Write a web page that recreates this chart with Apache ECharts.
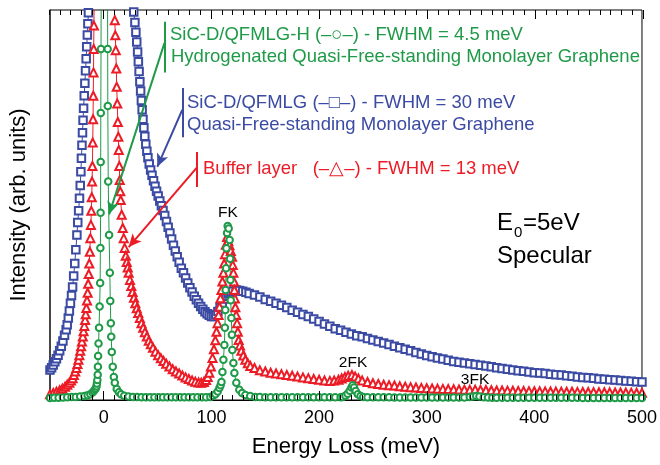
<!DOCTYPE html>
<html>
<head>
<meta charset="utf-8">
<script src="https://cdn.jsdelivr.net/npm/echarts@6/dist/echarts.min.js"></script>
<style>html,body{margin:0;padding:0;background:#fff}#c{width:660px;height:465px}</style>
</head>
<body>
<div id="c"></div>
<script>
// ---- data: [energy loss (meV), intensity (arb. units, 0-100 = plot height)] ----
const xTickValues = [0, 100, 200, 300, 400, 500];

const blueQFMLG = [
[-50,7.7],[-48.5,8.3],[-47,9.0],[-45.5,9.8],[-44,10.6],[-42.5,11.5],[-41,12.6],[-39.5,13.8],[-38,15.1],[-36.5,16.6],
[-35,18.0],[-34,19.3],[-33,21.0],[-32,22.8],[-31,24.8],[-30,26.8],[-29,29.0],[-28,31.8],[-27,35.0],[-26,38.5],
[-25,42.3],[-24.2,45.5],[-23.4,48.5],[-22.6,51.7],[-21.9,55.0],[-21.3,58.5],[-20.8,62],[-20.3,65.3],[-19.8,68.5],[-19.3,71.7],
[-18.8,74.8],[-18.2,78],[-17.6,81.2],[-17.0,84.4],[-16.4,87.5],[-15.9,90.6],[-15.3,93.6],[-14.8,96.5],[-14.3,99.3],[-13.7,103],
[0,250],
[26.5,103],[27.8,99.5],[28.9,96.8],[29.8,94.3],[30.6,91.8],[31.4,89.2],[32.1,86.7],[32.8,84.2],[33.5,81.6],[34.2,79.2],
[34.9,76.8],[35.6,74.4],[36.4,72],[37.2,69.8],[38.1,67.6],[39.0,65.6],[40.0,63.8],[41.0,62.1],[42.2,60.5],[43.5,59.0],
[44.8,57.6],[46.2,56.2],[47.6,54.8],[49,53.5],[50.5,52.3],[52,51.0],[53.5,49.8],[55,48.6],[56.6,47.3],[58.2,45.8],
[59.8,44.3],[61.4,42.8],[63,41.3],[64.7,39.7],[66.4,38.2],[68.2,36.7],[70,35.3],[72,33.8],[74,32.6],[76,31.3],
[78,30.0],[80,28.8],[82,27.7],[84,26.6],[86,25.7],[88,24.8],[90,24.0],[92,23.3],[94,22.6],[96,22.1],
[98,21.7],[100,21.4],[102,21.4],[104,21.9],[106,22.7],[108,23.8],[110,24.9],[112,25.9],[114,26.6],[116,27.2],
[118,27.6],[120,27.9],[123,28.2],[126,28.1],[129,27.9],[132,27.6],[135,27.3],[140,26.9],[145,26.4],[150,25.8],
[155,25.3],[160,24.8],[165,24.3],[170,23.7],[175,23.0],[180,22.5],[185,21.9],[190,21.4],[195,20.8],[200,20.1],
[205,19.5],[210,18.9],[215,18.3],[220,17.9],[225,17.4],[230,16.9],[235,16.5],[240,16.2],[245,15.8],[250,15.4],
[255,15.0],[260,14.6],[265,14.2],[270,13.8],[275,13.4],[280,13.0],[285,12.6],[290,12.2],[295,11.8],[300,11.4],
[305,11.1],[310,10.8],[315,10.5],[320,10.2],[325,9.9],[330,9.7],[335,9.5],[340,9.3],[345,9.1],[350,8.9],
[355,8.7],[360,8.5],[365,8.3],[370,8.1],[375,7.9],[380,7.7],[385,7.5],[390,7.4],[395,7.2],[400,7.0],
[405,6.9],[410,6.8],[415,6.6],[420,6.5],[425,6.4],[430,6.2],[435,6.1],[440,5.9],[445,5.8],[450,5.7],
[455,5.6],[460,5.4],[465,5.3],[470,5.2],[475,5.1],[480,5.0],[485,4.9],[490,4.8],[495,4.7],[500,4.6]
];

const redBuffer = [
[-50,1.5],[-47,1.8],[-44,2.1],[-41,2.5],[-38.5,2.9],[-36,3.4],[-34,3.9],[-32,4.4],[-30.5,5.0],[-29,5.6],
[-27.8,6.4],[-26.6,7.3],[-25.5,8.2],[-24.5,9.2],[-23.6,10.3],[-22.7,11.5],[-21.9,12.6],[-21.1,13.8],[-20.3,15.0],[-19.5,16.3],
[-18.8,17.6],[-18.1,19.0],[-17.4,20.5],[-16.8,22.0],[-16.2,23.6],[-15.6,25.5],[-15.0,27.5],[-14.5,29.8],[-14.0,32.3],[-13.5,35.0],
[-13.0,38.0],[-12.5,41.5],[-12.0,44.9],[-11.6,48.5],[-11.2,52.0],[-10.9,56],[-10.6,60],[-10.3,66],[-10.0,72],[-9.8,78],
[-9.6,84],[-9.4,90],[-9.2,96],[-9.0,102],
[0,420],
[9.6,102],[10.2,97.4],[10.7,93.5],[11.1,89.7],[11.6,85],[12.0,80.3],[12.5,76],[13.0,71.3],[13.5,67.5],[13.9,64.1],
[14.4,60],[14.8,56.4],[15.3,53.5],[15.7,51.3],[16.6,47.5],[17.6,44.1],[18.5,41.5],[19.4,39.0],[20.4,37.0],[21.3,35.4],
[22.2,34.0],[23.1,32.6],[24.3,30.8],[25.5,29.2],[26.7,27.7],[28.0,26.2],[29.3,24.8],[30.6,23.5],[32.0,22.3],[33.5,21.0],
[35.0,19.7],[36.6,18.5],[38.2,17.4],[40.0,16.3],[41.8,15.2],[43.7,14.3],[45.7,13.4],[48,12.4],[50.5,11.5],[53,10.7],
[55.5,10.0],[58,9.3],[61,8.6],[64,7.9],[67,7.3],[70,6.8],[73,6.3],[76,5.8],[79,5.4],[82,5.0],
[85,4.7],[88,4.5],[90.5,4.4],[93,4.6],[95,5.1],[96.5,5.9],[98,7.0],[99.5,8.6],[101,10.8],[102.3,13.0],
[103.6,15.3],[104.7,17.5],[105.7,19.7],[106.6,21.8],[107.5,23.9],[108.4,26.1],[109.3,28.2],[110.2,30.4],[111.1,32.6],[111.8,35.0],
[112.6,37.4],[113.4,39.8],[114.5,41.8],[115.6,40.8],[116.7,39.7],[118,38.2],[119.2,36.7],[119.8,34.6],[120.4,32.6],[120.9,30.4],
[121.3,28.2],[121.8,26.0],[122.2,23.8],[123.0,21.8],[123.8,19.7],[124.5,17.5],[125.3,15.4],[126.5,14.0],[127.8,12.6],[129.6,11.4],
[131.5,10.3],[133.8,9.4],[136.1,8.7],[140,8.2],[145,7.6],[150,7.3],[155,7.0],[160,6.8],[165,6.6],[170,6.4],
[175,6.2],[180,6.0],[185,5.8],[190,5.6],[195,5.4],[200,5.2],[205,5.0],[210,4.9],[214,5.0],[218,5.2],
[221,5.5],[224,5.9],[227,6.2],[230.5,6.4],[233.5,6.0],[236.5,5.5],[240,5.0],[245,4.6],[250,4.3],[255,4.1],
[260,3.9],[265,3.8],[270,3.7],[275,3.5],[280,3.4],[285,3.3],[290,3.2],[295,3.1],[300,3.0],[305,2.95],
[310,2.9],[315,2.85],[320,2.8],[325,2.75],[330,2.7],[335,2.66],[340,2.62],[345,2.65],[350,2.6],[355,2.55],
[360,2.5],[365,2.45],[370,2.42],[375,2.4],[380,2.36],[385,2.33],[390,2.3],[395,2.27],[400,2.24],[405,2.22],
[410,2.2],[415,2.18],[420,2.16],[425,2.14],[430,2.12],[435,2.1],[440,2.08],[445,2.06],[450,2.04],[455,2.02],
[460,2.0],[465,1.98],[470,1.96],[475,1.94],[480,1.92],[485,1.9],[490,1.88],[495,1.86],[500,1.84]
];

const greenQFMLGH = [
[-50,0.5],[-46,0.55],[-42,0.6],[-38,0.65],[-34,0.7],[-30,0.75],[-26,0.8],[-22,0.9],[-18,1.0],[-15,1.2],
[-12.5,1.5],[-10.5,1.9],[-9.3,2.3],[-8.2,2.7],[-7.4,3.0],[-6.8,3.5],[-6.4,4.2],[-6.0,5.1],[-5.7,6.5],[-5.5,8.5],
[-5.3,11.3],[-4.9,14.5],[-4.4,18.5],[-3.9,24],[-3.4,30],[-3.2,39],[-3.0,48],[-2.9,61],[-2.8,73.6],[-2.6,90],
[-2.4,110],[0,500],[3.4,110],[3.6,90],[3.7,75.4],[4.1,56],[4.9,42.3],[5.6,32.6],[6.0,25.4],[6.5,19.7],
[6.9,16.2],[7.4,12.3],[8.3,8.5],[9.3,5.9],[10.2,4.4],[12,2.8],[14,2.0],[16,1.5],[19,1.1],[23,0.9],
[27,0.8],[31,0.75],[35,0.72],[39,0.7],[43,0.7],[47,0.7],[51,0.68],[55,0.68],[59,0.68],[63,0.68],
[67,0.68],[71,0.68],[75,0.68],[79,0.68],[83,0.68],[87,0.68],[91,0.7],[95,0.7],[99,0.8],[101.5,1.1],
[103.7,1.5],[105.8,2.2],[107.4,3.1],[108.5,3.8],[109.3,4.6],[110.2,7.2],[111.1,10.3],[112,14.1],[112.5,18.5],[112.9,23.1],
[113.2,28.2],[113.6,33.8],[113.9,38.9],[114.5,42.8],[115.1,44.6],[116,44.0],[116.9,41],[117.3,36.2],[117.6,30.8],[117.9,25.6],
[118.5,21],[119,16.7],[119.4,12.8],[120.4,9.5],[121.3,6.9],[123.1,4.4],[125.9,2.6],[128.5,1.8],[131.5,1.3],[136,1.0],
[140.7,0.8],[145,0.75],[150,0.72],[155,0.7],[160,0.7],[165,0.7],[170,0.7],[175,0.68],[180,0.68],[185,0.68],
[190,0.68],[195,0.68],[200,0.68],[205,0.68],[210,0.68],[215,0.7],[220,0.72],[222,0.8],[224.5,1.1],[226.5,1.6],
[228.5,2.4],[230,3.2],[231.2,3.8],[232.5,3.2],[234,2.3],[236,1.5],[238.5,1.0],[241,0.8],[245,0.72],[250,0.7],
[255,0.7],[260,0.68],[265,0.68],[270,0.66],[275,0.66],[280,0.65],[285,0.65],[290,0.64],[295,0.64],[300,0.63],
[305,0.63],[310,0.62],[315,0.62],[320,0.62],[325,0.62],[330,0.63],[335,0.66],[340,0.75],[343,0.9],[346,1.05],
[349,0.9],[353,0.72],[357,0.62],[361,0.6],[365,0.6],[370,0.6],[375,0.6],[380,0.59],[385,0.59],[390,0.58],
[395,0.58],[400,0.58],[405,0.57],[410,0.57],[415,0.56],[420,0.56],[425,0.56],[430,0.55],[435,0.55],[440,0.55],
[445,0.54],[450,0.54],[455,0.54],[460,0.53],[465,0.53],[470,0.53],[475,0.52],[480,0.52],[485,0.52],[490,0.51],
[495,0.51],[500,0.5]
];

// ---- styles ----
const GREEN = '#1f9a48', BLUE = '#3b4aa3', RED = '#ec1c26';
const FONT = '"Liberation Sans", Arial, Helvetica, sans-serif';

const chart = echarts.init(document.getElementById('c'));

// main plot: left 49, right 17 (x: -50..500 over 594 px); 0 meV sits 54 px right of the left edge
const mainGrid = {left: 49, right: 17, top: 10, bottom: 65, show: true, borderColor: '#000', borderWidth: 1};
// thin strips along the top and bottom frame edges whose split lines act as the inward tick marks
const tickGrids = [
  {left: 49, right: 17, top: 10, height: 5},      // top, minor (every 10)
  {left: 103, right: 17, top: 10, height: 9},     // top, major (every 100, from 0)
  {left: 49, right: 17, bottom: 65, height: 5},   // bottom, minor
  {left: 103, right: 17, bottom: 65, height: 9}   // bottom, major
];
const tickAxes = tickGrids.map((g, i) => {
  const major = (i % 2) === 1;
  return {
    gridIndex: i + 1, type: 'value', min: major ? 0 : -50, max: 500, interval: major ? 100 : 10, z: 6,
    axisLine: {show: false}, axisTick: {show: false}, axisLabel: {show: false},
    splitLine: {show: true, lineStyle: {color: '#000', width: 1, type: 'solid'}}
  };
});
const tickYAxes = tickGrids.map((g, i) => ({gridIndex: i + 1, type: 'value', min: 0, max: 1, show: false}));

const mainX = {
  gridIndex: 0, type: 'value', min: -50, max: 500, position: 'bottom',
  axisLine: {show: true, onZero: false, lineStyle: {color: '#000'}},
  splitLine: {show: false},
  axisTick: {show: false},
  axisLabel: {show: true, customValues: xTickValues, fontSize: 18, color: '#000', fontFamily: FONT, margin: 9},
  name: 'Energy Loss (meV)', nameLocation: 'middle', nameGap: 36,
  nameTextStyle: {fontSize: 22, color: '#000', fontFamily: FONT}
};

function seg(c1, c2, color, arrow) {
  return [{coord: c1, symbol: 'none', lineStyle: {color: color, width: 2, type: 'solid'}},
          {coord: c2, symbol: arrow ? 'arrow' : 'none', symbolSize: arrow ? [9, 13] : 0}];
}

const option = {
  animation: false,
  grid: [mainGrid].concat(tickGrids),
  xAxis: [mainX].concat(tickAxes),
  yAxis: [{
    gridIndex: 0, type: 'value', min: 0, max: 100,
    axisLine: {show: true, onZero: false, lineStyle: {color: '#333', width: 1.5}},
    axisTick: {show: false}, axisLabel: {show: false}, splitLine: {show: false},
    name: 'Intensity (arb. units)', nameLocation: 'middle', nameGap: 20,
    nameTextStyle: {fontSize: 22, color: '#000', fontFamily: FONT}
  }].concat(tickYAxes),
  series: [
    {
      name: 'SiC-D/QFMLG', type: 'line', xAxisIndex: 0, yAxisIndex: 0, data: blueQFMLG,
      symbol: 'emptyRect', symbolSize: 7.5, showAllSymbol: true,
      lineStyle: {color: BLUE, width: 1}, itemStyle: {color: BLUE, borderWidth: 1}
    },
    {
      name: 'Buffer layer', type: 'line', xAxisIndex: 0, yAxisIndex: 0, data: redBuffer,
      symbol: 'emptyTriangle', symbolSize: 8, showAllSymbol: true,
      lineStyle: {color: RED, width: 1}, itemStyle: {color: RED, borderWidth: 1}
    },
    {
      name: 'SiC-D/QFMLG-H', type: 'line', xAxisIndex: 0, yAxisIndex: 0, data: greenQFMLGH,
      symbol: 'emptyCircle', symbolSize: 6.5, showAllSymbol: true,
      lineStyle: {color: GREEN, width: 1}, itemStyle: {color: GREEN, borderWidth: 1},
      markLine: {
        silent: true, animation: false, label: {show: false},
        lineStyle: {type: 'solid', width: 2},
        symbol: ['none', 'arrow'],
        data: [
          seg([56.3, 97.0], [56.3, 84.0], GREEN, false),
          seg([56.3, 91.5], [4.9, 47.6], GREEN, true),
          seg([72.9, 80.0], [72.9, 67.4], BLUE, false),
          seg([72.9, 74.4], [49.7, 59.8], BLUE, true),
          seg([86.8, 63.6], [86.8, 54.6], RED, false),
          seg([86.8, 59.7], [23.1, 39.2], RED, true)
        ]
      }
    }
  ],
  graphic: [
    {type: 'text', x: 170, y: 35, z: 10, style: {text: 'SiC-D/QFMLG-H (–○–) - FWHM = 4.5 meV', fill: GREEN, font: '18.5px ' + FONT, textVerticalAlign: 'middle', verticalAlign: 'middle'}},
    {type: 'text', x: 171, y: 57, z: 10, style: {text: 'Hydrogenated Quasi-Free-standing Monolayer Graphene', fill: GREEN, font: '18.5px ' + FONT, textVerticalAlign: 'middle', verticalAlign: 'middle'}},
    {type: 'text', x: 187, y: 103, z: 10, style: {text: 'SiC-D/QFMLG (–□–) - FWHM = 30 meV', fill: BLUE, font: '18.5px ' + FONT, textVerticalAlign: 'middle', verticalAlign: 'middle'}},
    {type: 'text', x: 187, y: 125, z: 10, style: {text: 'Quasi-Free-standing Monolayer Graphene', fill: BLUE, font: '18.5px ' + FONT, textVerticalAlign: 'middle', verticalAlign: 'middle'}},
    {type: 'text', x: 203, y: 169, z: 10, style: {text: 'Buffer layer   (–△–) - FWHM = 13 meV', fill: RED, font: '18.5px ' + FONT, textVerticalAlign: 'middle', verticalAlign: 'middle'}},
    {type: 'text', x: 228, y: 213, z: 10, style: {text: 'FK', fill: '#000', font: '15.5px ' + FONT, textAlign: 'center', align: 'center', textVerticalAlign: 'middle', verticalAlign: 'middle'}},
    {type: 'text', x: 353, y: 363, z: 10, style: {text: '2FK', fill: '#000', font: '15.5px ' + FONT, textAlign: 'center', align: 'center', textVerticalAlign: 'middle', verticalAlign: 'middle'}},
    {type: 'text', x: 475, y: 380, z: 10, style: {text: '3FK', fill: '#000', font: '15.5px ' + FONT, textAlign: 'center', align: 'center', textVerticalAlign: 'middle', verticalAlign: 'middle'}},
    {type: 'text', x: 497, y: 223, z: 10, style: {text: 'E', fill: '#000', font: '24px ' + FONT, textVerticalAlign: 'middle', verticalAlign: 'middle'}},
    {type: 'text', x: 514, y: 233, z: 10, style: {text: '0', fill: '#000', font: '15px ' + FONT, textVerticalAlign: 'middle', verticalAlign: 'middle'}},
    {type: 'text', x: 523, y: 223, z: 10, style: {text: '=5eV', fill: '#000', font: '24px ' + FONT, textVerticalAlign: 'middle', verticalAlign: 'middle'}},
    {type: 'text', x: 497, y: 256, z: 10, style: {text: 'Specular', fill: '#000', font: '24px ' + FONT, textVerticalAlign: 'middle', verticalAlign: 'middle'}}
  ]
};
chart.setOption(option);
</script>
</body>
</html>
